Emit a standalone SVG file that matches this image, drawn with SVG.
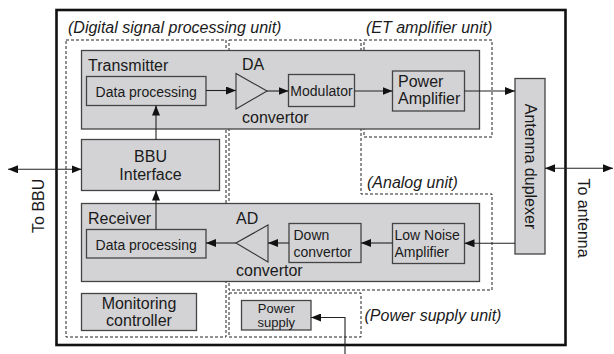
<svg xmlns="http://www.w3.org/2000/svg" width="614" height="354" viewBox="0 0 614 354">
<defs>
<marker id="ah" viewBox="0 0 10 8" refX="10" refY="4" markerWidth="10" markerHeight="8" markerUnits="userSpaceOnUse" orient="auto-start-reverse">
<path d="M0,0 L10,4 L0,8 Z" fill="#111"/>
</marker>
</defs>
<style>
text{font-family:"Liberation Sans",Arial,sans-serif;fill:#1a1a1a}
.box{fill:#d3d3d5;stroke:#444;stroke-width:1.3}
.tri{fill:#d3d3d5;stroke:#333;stroke-width:1.1}
.unit{fill:none;stroke:#222;stroke-width:1;stroke-dasharray:3,2}
.lbl{font-style:italic;font-size:16px}
.t16{font-size:16px}
.t14{font-size:14px}
.t13{font-size:13px}
.c{text-anchor:middle}
.con{fill:none;stroke:#222;stroke-width:1.1}
</style>
<rect id="frame" x="56.5" y="10" width="509" height="335" fill="#fff" stroke="#111" stroke-width="2.6"/>

<g id="units">
<rect class="unit" x="66" y="40" width="160" height="297"/>
<path class="unit" d="M229,40 H361 V194 H492 V290 H229 Z"/>
<rect class="unit" x="364" y="40" width="128" height="97"/>
<rect class="unit" x="229" y="293" width="132" height="44"/>
<text class="lbl" x="68" y="33">(Digital signal processing unit)</text>
<text class="lbl" x="366" y="32.5">(ET amplifier unit)</text>
<text class="lbl" x="367" y="188">(Analog unit)</text>
<text class="lbl" x="364.5" y="321">(Power supply unit)</text>
</g>

<g id="transmitter">
<rect class="box" x="81.5" y="50.5" width="398" height="78.5"/>
<text class="t16" x="88" y="71">Transmitter</text>
</g>
<g id="tx-data-processing">
<rect class="box" x="86.5" y="76.5" width="119.5" height="29"/>
<text class="t14 c" x="146.2" y="96.5">Data processing</text>
</g>
<g id="da-convertor">
<polygon class="tri" points="236,73.5 236,109 267,91"/>
<text class="t16" x="242" y="70">DA</text>
<text class="t16" x="242" y="123">convertor</text>
</g>
<g id="modulator">
<rect class="box" x="288.5" y="74.5" width="66" height="32"/>
<text class="t14 c" x="321.5" y="96">Modulator</text>
</g>
<g id="power-amplifier">
<rect class="box" x="392.5" y="71" width="72" height="40"/>
<text class="t16" x="398" y="86.5">Power</text>
<text class="t16" x="398" y="104">Amplifier</text>
</g>
<g id="bbu-interface">
<rect class="box" x="81.5" y="139.5" width="138" height="51"/>
<text class="t16 c" x="150.5" y="162">BBU</text>
<text class="t16 c" x="150.5" y="180">Interface</text>
</g>
<g id="receiver">
<rect class="box" x="81.5" y="203.5" width="398" height="78"/>
<text class="t16" x="88" y="224">Receiver</text>
</g>
<g id="rx-data-processing">
<rect class="box" x="86.5" y="229.5" width="119.5" height="28.5"/>
<text class="t14 c" x="146.2" y="249.5">Data processing</text>
</g>
<g id="ad-convertor">
<polygon class="tri" points="236,243 268,225 268,262"/>
<text class="t16" x="236" y="223.5">AD</text>
<text class="t16" x="236" y="276">convertor</text>
</g>
<g id="down-convertor">
<rect class="box" x="289" y="223.5" width="72" height="39"/>
<text class="t14" x="293.5" y="239.5">Down</text>
<text class="t14" x="293.5" y="256.5">convertor</text>
</g>
<g id="lna">
<rect class="box" x="392.5" y="223.5" width="72" height="40"/>
<text class="t14" x="394.5" y="240">Low Noise</text>
<text class="t14" x="394.5" y="257">Amplifier</text>
</g>
<g id="antenna-duplexer">
<rect class="box" x="515" y="78.5" width="30" height="175.5"/>
<text class="t16 c" transform="translate(524.5,166.5) rotate(90)">Antenna duplexer</text>
</g>
<g id="monitoring-controller">
<rect class="box" x="81.5" y="293.5" width="115" height="37"/>
<text class="t16 c" x="139" y="308.5">Monitoring</text>
<text class="t16 c" x="139" y="325.5">controller</text>
</g>
<g id="power-supply">
<rect class="box" x="241.5" y="300.5" width="69.5" height="29.5"/>
<text class="t13 c" x="276.3" y="312.5">Power</text>
<text class="t13 c" x="276.3" y="326.5">supply</text>
</g>
<g id="to-bbu">
<text class="t16 c" transform="translate(43.5,205.8) rotate(-90)">To BBU</text>
</g>
<g id="to-antenna">
<text class="t16 c" transform="translate(577.5,218) rotate(90)">To antenna</text>
</g>

<g id="connectors">
<line class="con" x1="206" y1="90.5" x2="236" y2="90.5" marker-end="url(#ah)"/>
<line class="con" x1="267" y1="91" x2="288.5" y2="91" marker-end="url(#ah)"/>
<line class="con" x1="354.5" y1="91" x2="392.5" y2="91" marker-end="url(#ah)"/>
<line class="con" x1="464.5" y1="91" x2="515" y2="91" marker-end="url(#ah)"/>
<line class="con" x1="156" y1="139.5" x2="156" y2="105.5" marker-end="url(#ah)"/>
<line class="con" x1="156" y1="229.5" x2="156" y2="190.5" marker-end="url(#ah)"/>
<line class="con" x1="8" y1="169.3" x2="81.5" y2="169.3" marker-start="url(#ah)" marker-end="url(#ah)"/>
<line class="con" x1="545" y1="168.3" x2="613" y2="168.3" marker-start="url(#ah)" marker-end="url(#ah)"/>
<line class="con" x1="515" y1="243.3" x2="464.5" y2="243.3" marker-end="url(#ah)"/>
<line class="con" x1="392.5" y1="243" x2="361" y2="243" marker-end="url(#ah)"/>
<line class="con" x1="289" y1="243" x2="268" y2="243" marker-end="url(#ah)"/>
<line class="con" x1="236" y1="243" x2="206" y2="243" marker-end="url(#ah)"/>
<polyline class="con" points="345,354 345,317.5 311,317.5" marker-end="url(#ah)"/>
</g>
</svg>
